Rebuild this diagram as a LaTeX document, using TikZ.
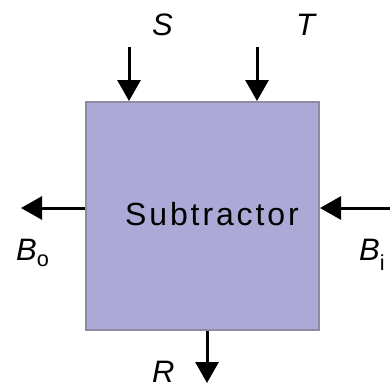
\documentclass[tikz,border=0pt]{standalone}
\usepackage{fontspec}
\setmainfont{Liberation Sans}
\usetikzlibrary{positioning, arrows.meta}
\definecolor{cBox}{HTML}{ADA9D6}
\definecolor{cBorder}{HTML}{8E8C9E}

\begin{document}
\begin{tikzpicture}[
  x=1pt, y=-1pt,
  font=\fontsize{32}{36}\selectfont,
  >={Triangle[length=21pt, width=23pt]},
  unit/.style={draw=cBorder, fill=cBox, line width=2pt,
               minimum width=233pt, minimum height=228pt, inner sep=0pt},
  sig/.style={->, draw=black, line width=3pt},
  lab/.style={anchor=base west, inner sep=0pt, font=\fontsize{31}{36}\selectfont\itshape},
]
\useasboundingbox (0,0) rectangle (390,388);

% ---- Subtractor block -------------------------------------------------
\node[unit] (sub) at (202.5,216) {};
\node[anchor=base west, inner sep=0pt] (subtxt) at (125,225)
  {\addfontfeature{LetterSpace=9}Subtractor};

% ---- Free ends of the signals -------------------------------------------
\coordinate (sIn) at (129,47);
\coordinate (tIn) at (257,47);
\coordinate (biIn) at (390,208);
\coordinate (boOut) at (21,208);
\coordinate (rOut) at (207,383);

% ---- Connections --------------------------------------------------------
\draw[sig] (sIn) -- (sub.north -| sIn);
\draw[sig] (tIn) -- (sub.north -| tIn);
\draw[sig] (biIn) -- (sub.east |- biIn);
\draw[sig] (sub.west |- boOut) -- (boOut);
\draw[sig] (sub.south -| rOut) -- (rOut);

% ---- Signal names -------------------------------------------------------
\node[lab] (s) at (152,35) {S};
\node[lab] (t) at (296,35) {T};
\node[lab] (bo) at (16,260) {B\raisebox{-3pt}{\textsubscript{\upshape o}}};
\node[lab] (bi) at (359,260) {B\raisebox{-3pt}{\textsubscript{\upshape i}}};
\node[lab] (r) at (152,382) {R};

\end{tikzpicture}
\end{document}
